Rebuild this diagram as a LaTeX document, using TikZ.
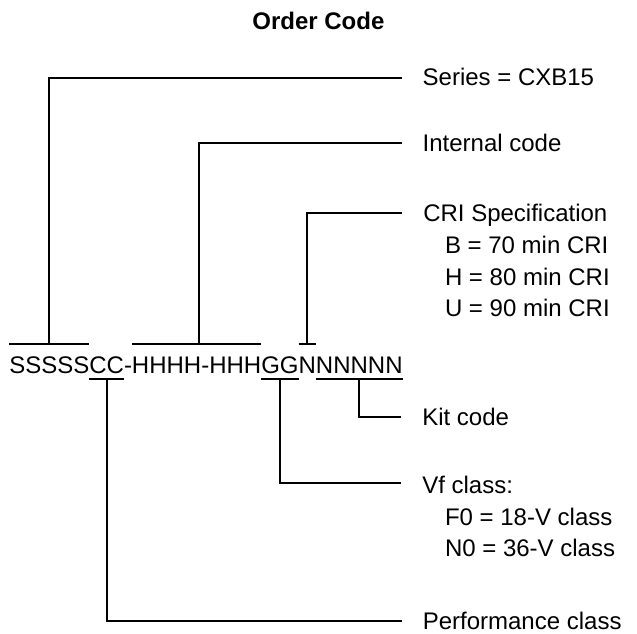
\documentclass[tikz,border=0pt]{standalone}
\usepackage{fontspec}
\setmainfont{Liberation Sans}
\usetikzlibrary{calc}
\begin{document}
\begin{tikzpicture}[x=1pt,y=-1pt,
  txt/.style={inner sep=0pt, outer sep=0pt, anchor=base west, font=\fontsize{24}{24}\selectfont},
  titletxt/.style={inner sep=0pt, outer sep=0pt, anchor=base, font=\fontsize{24}{24}\selectfont\bfseries},
  conn/.style={line width=2pt, line join=miter}
]
\useasboundingbox (0,0) rectangle (637,634);

% title
\node[titletxt] (title) at (318.4,30) {Order Code};

% code string, split into parts
\node[txt] (cs) at (9.3,373.3) {SSSSS};
\node[txt] (cc) at (cs.base east) {CC};
\node[txt] (ch1) at (cc.base east) {-};
\node[txt] (ch) at (ch1.base east) {HHHH-HHH};
\node[txt] (cg) at (ch.base east) {GG};
\node[txt] (cn1) at (cg.base east) {N};
\node[txt] (cn) at (cn1.base east) {NNNNN};

\coordinate (topy) at (0,344);
\coordinate (boty) at (0,379);

% brackets
\draw[conn] (cs.west |- topy) -- (cs.east |- topy);
\draw[conn] (ch.west |- topy) -- (ch.east |- topy);
\draw[conn] (cn1.west |- topy) -- (cn1.east |- topy);
\draw[conn] (cc.west |- boty) -- (cc.east |- boty);
\draw[conn] (cg.west |- boty) -- (cg.east |- boty);
\draw[conn] (cn.west |- boty) -- (cn.east |- boty);

% junctions
\coordinate (jS) at ($(cs.west |- topy)!0.5!(cs.east |- topy)$);
\coordinate (jH) at ($(ch.west |- topy)!0.52!(ch.east |- topy)$);
\coordinate (jN1) at ($(cn1.west |- topy)!0.5!(cn1.east |- topy)$);
\coordinate (jC) at ($(cc.west |- boty)!0.5!(cc.east |- boty)$);
\coordinate (jG) at ($(cg.west |- boty)!0.5!(cg.east |- boty)$);
\coordinate (jN) at ($(cn.west |- boty)!0.5!(cn.east |- boty)$);

% labels
\node[txt] (lSeries) at (422.7,85.7) {Series = CXB15};
\node[txt] (lInternal) at (422.7,151.7) {Internal code};
\node[txt] (lCRI) at (423.3,221.7) {CRI Specification};
\node[txt] (lCRIb) at (445,253.3) {B = 70 min CRI};
\node[txt] (lCRIh) at (445,285) {H = 80 min CRI};
\node[txt] (lCRIu) at (445,316.7) {U = 90 min CRI};
\node[txt] (lKit) at (422.3,425) {Kit code};
\node[txt] (lVf) at (422.3,493.3) {Vf class:};
\node[txt] (lVfF) at (445,525) {F0 = 18-V class};
\node[txt] (lVfN) at (445,556.7) {N0 = 36-V class};
\node[txt] (lPerf) at (422.8,629.5) {Performance class};

% label end points
\coordinate (eSeries) at ($(lSeries.base west)+(-20.5,-7.5)$);
\coordinate (eInternal) at ($(lInternal.base west)+(-20.5,-8.4)$);
\coordinate (eCRI) at ($(lCRI.base west)+(-21,-8.4)$);
\coordinate (eKit) at ($(lKit.base west)+(-21,-8.4)$);
\coordinate (eVf) at ($(lVf.base west)+(-21,-10)$);
\coordinate (ePerf) at ($(lPerf.base west)+(-20.5,-8.5)$);

% connectors
\draw[conn] (jS) |- (eSeries);
\draw[conn] (jH) |- (eInternal);
\draw[conn] (jN1) |- (eCRI);
\draw[conn] (jN) |- (eKit);
\draw[conn] (jG) |- (eVf);
\draw[conn] (jC) |- (ePerf);
\end{tikzpicture}
\end{document}
